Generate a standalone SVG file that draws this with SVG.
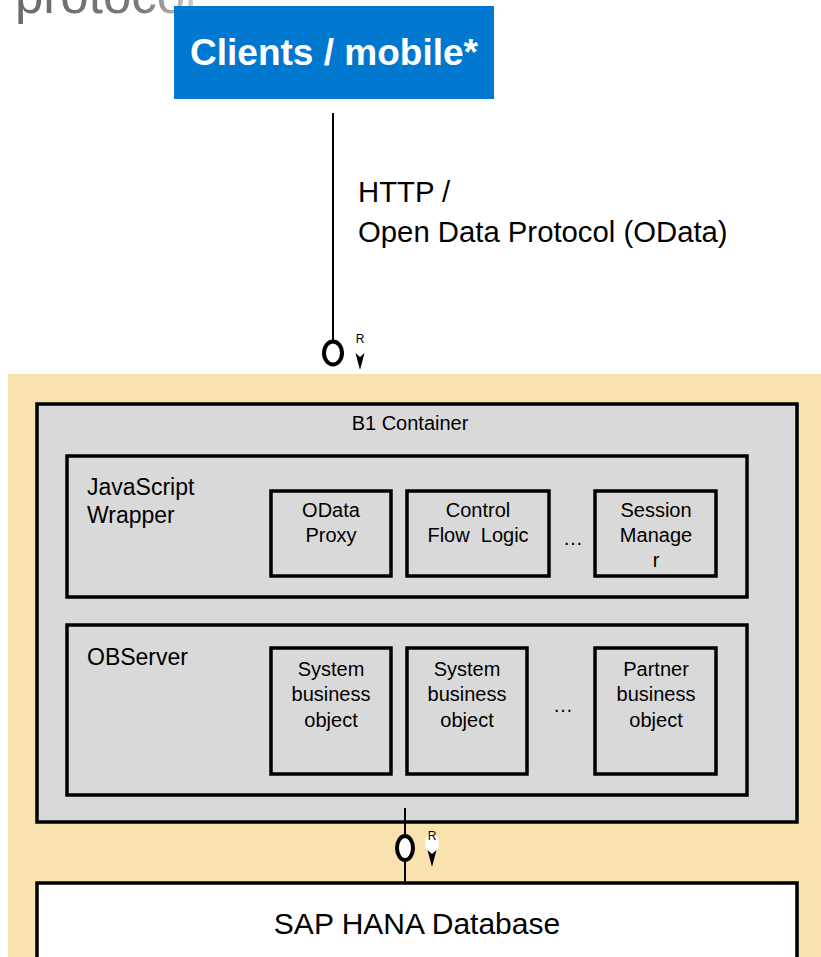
<svg xmlns="http://www.w3.org/2000/svg" width="821" height="957" viewBox="0 0 821 957">
<defs>
<linearGradient id="fade" x1="0" y1="0" x2="1" y2="0">
<stop offset="0" stop-color="#6a6a6a"/>
<stop offset="0.7" stop-color="#7a7a7a"/>
<stop offset="1" stop-color="#d0d0d0"/>
</linearGradient>
<style>
text{font-family:"Liberation Sans",Arial,sans-serif;fill:#000}
.box{fill:#d9d9d9;stroke:#000;stroke-width:3.5}
.t20{font-size:20px;text-anchor:middle}
.t23{font-size:23px}
.ln{stroke:#000;stroke-width:2;fill:none}
.ring{fill:#fff;stroke:#000;stroke-width:4}
</style>
</defs>
<rect width="821" height="957" fill="#fff"/>
<text x="15" y="13" style="font-size:51px;fill:url(#fade)">protocol</text>

<g id="clients">
<rect x="174" y="6" width="320" height="93" fill="#0078cf"/>
<text x="334" y="65" style="font-size:37px;font-weight:bold;fill:#fff;text-anchor:middle">Clients / mobile*</text>
</g>

<g id="label-http">
<text x="358" y="202" style="font-size:29.3px">HTTP /</text>
<text x="358" y="242" style="font-size:29.3px">Open Data Protocol (OData)</text>
</g>

<rect id="tan-area" x="8" y="374" width="813" height="583" fill="#f8e2ae"/>

<g id="b1-container">
<rect class="box" x="37" y="404" width="760" height="418"/>
<text x="410" y="430" style="font-size:20px;text-anchor:middle">B1 Container</text>
</g>

<g id="js-wrapper">
<rect class="box" x="67" y="456" width="680" height="141"/>
<text class="t23" x="87" y="495">JavaScript</text>
<text class="t23" x="87" y="523">Wrapper</text>
</g>
<g id="odata-proxy">
<rect class="box" x="271" y="491" width="120" height="85"/>
<text class="t20" x="331" y="517">OData</text>
<text class="t20" x="331" y="542">Proxy</text>
</g>
<g id="control-flow">
<rect class="box" x="407" y="491" width="142" height="85"/>
<text class="t20" x="478" y="517">Control</text>
<text class="t20" x="478" y="542" xml:space="preserve">Flow  Logic</text>
</g>
<text class="t20" x="573" y="545">…</text>
<g id="session-manager">
<rect class="box" x="595" y="491" width="121" height="85"/>
<text class="t20" x="656" y="517">Session</text>
<text class="t20" x="656" y="542">Manage</text>
<text class="t20" x="656" y="567">r</text>
</g>

<g id="observer">
<rect class="box" x="67" y="625" width="680" height="170"/>
<text class="t23" x="87" y="665">OBServer</text>
</g>
<g id="sbo1">
<rect class="box" x="271" y="648" width="120" height="126"/>
<text class="t20" x="331" y="676">System</text>
<text class="t20" x="331" y="701">business</text>
<text class="t20" x="331" y="727">object</text>
</g>
<g id="sbo2">
<rect class="box" x="407" y="648" width="120" height="126"/>
<text class="t20" x="467" y="676">System</text>
<text class="t20" x="467" y="701">business</text>
<text class="t20" x="467" y="727">object</text>
</g>
<text class="t20" x="563" y="712">…</text>
<g id="pbo">
<rect class="box" x="595" y="648" width="121" height="126"/>
<text class="t20" x="656" y="676">Partner</text>
<text class="t20" x="656" y="701">business</text>
<text class="t20" x="656" y="727">object</text>
</g>

<g id="hana">
<rect x="37" y="883" width="760" height="90" fill="#fff" stroke="#000" stroke-width="3.5"/>
<text x="417" y="934" style="font-size:30px;text-anchor:middle">SAP HANA Database</text>
</g>

<g id="connectors">
<line class="ln" x1="333" y1="113" x2="333" y2="341"/>
<ellipse class="ring" cx="333" cy="353" rx="9" ry="11.5"/>
<text x="360" y="343" style="font-size:12px;text-anchor:middle">R</text>
<path d="M355.5,353 L360,357 L364.5,353 L360,370 Z" fill="#000"/>

<line class="ln" x1="405" y1="808" x2="405" y2="883"/>
<ellipse class="ring" cx="405" cy="848" rx="8" ry="12"/>
<ellipse cx="432" cy="843" rx="7" ry="10" fill="#fff"/>
<text x="432" y="840" style="font-size:12px;text-anchor:middle">R</text>
<path d="M427.5,850 L432,854 L436.5,850 L432,867 Z" fill="#000"/>
</g>
</svg>
